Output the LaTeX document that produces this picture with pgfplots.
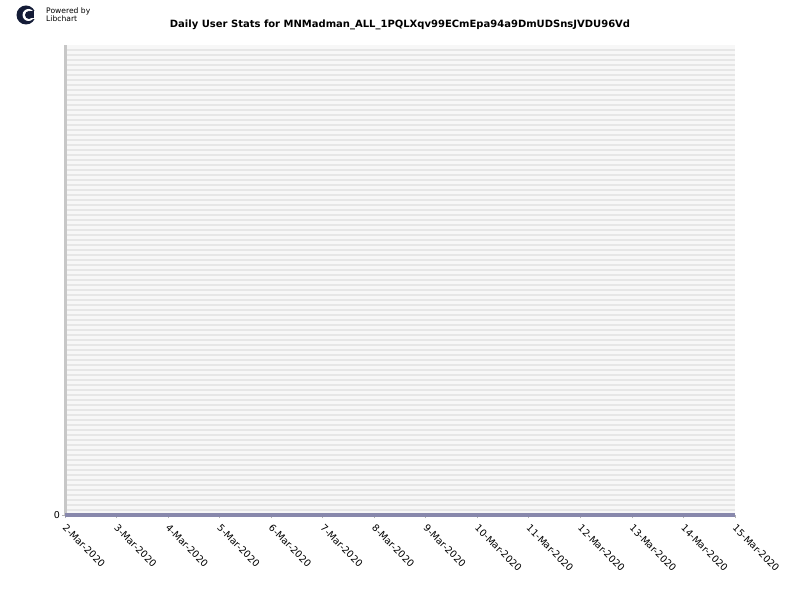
\documentclass[border=0pt]{standalone}
\usepackage{pgfplots}
\pgfplotsset{compat=1.18}
\usepackage{fontspec}
\setmainfont{DejaVu Sans}
\definecolor{stripe}{RGB}{230,230,230}
\definecolor{stripebg}{RGB}{247,247,247}
\definecolor{zeroline}{RGB}{136,136,172}
\definecolor{logo}{RGB}{20,28,55}
\begin{document}
\begin{tikzpicture}[x=1pt,y=1pt]
\path[fill=white] (0,0) rectangle (800,600);
% logo
\fill[logo] (26,585) circle (9.5);
\fill[white] (28.5,585) circle (6);
\fill[logo] (29,585) circle (4);
\fill[white] (33,581) rectangle (36,589);
\fill[logo] (30,581.5) rectangle (34,588.5);
\node[anchor=west, inner sep=0, font=\fontsize{7.6}{8}\selectfont] at (46,589) {Powered by};
\node[anchor=west, inner sep=0, font=\fontsize{7.6}{8}\selectfont] at (46,581) {Libchart};
\node[font=\fontsize{10}{12}\selectfont\bfseries] at (400,575) {Daily User Stats for MNMadman\_ALL\_1PQLXqv99ECmEpa94a9DmUDSnsJVDU96Vd};
\begin{axis}[
  at={(65pt,85pt)}, anchor=south west,
  scale only axis, width=670pt, height=470pt,
  xmin=0, xmax=13, ymin=0, ymax=94,
  axis background/.style={fill=stripebg},
  axis lines=left,
  x axis line style={-, draw=zeroline!60, line width=1pt},
  y axis line style={-, draw=black!22, line width=3pt},
  xtick={0,...,13},
  xticklabels={2-Mar-2020,3-Mar-2020,4-Mar-2020,5-Mar-2020,6-Mar-2020,7-Mar-2020,8-Mar-2020,9-Mar-2020,10-Mar-2020,11-Mar-2020,12-Mar-2020,13-Mar-2020,14-Mar-2020,15-Mar-2020},
  xticklabel style={rotate=-45, anchor=north west, inner sep=0.5pt, xshift=5pt, yshift=-2pt, font=\fontsize{9.6}{11}\selectfont},
  ytick={0}, yticklabels={0},
  yticklabel style={font=\fontsize{9.5}{11}\selectfont, inner sep=2pt},
  minor ytick={1,...,93},
  yminorgrids=true,
  minor grid style={draw=stripe, line width=1.6pt},
  minor tick length=0pt,
  major tick length=3pt,
  tick align=outside,
  tick style={draw=black!30, line width=0.8pt},
  clip=false,
]
\addplot[color=zeroline, line width=3.5pt, mark=none] coordinates {
(0,0) (1,0) (2,0) (3,0) (4,0) (5,0) (6,0) (7,0) (8,0) (9,0) (10,0) (11,0) (12,0) (13,0)
};
\end{axis}
\end{tikzpicture}
\end{document}
